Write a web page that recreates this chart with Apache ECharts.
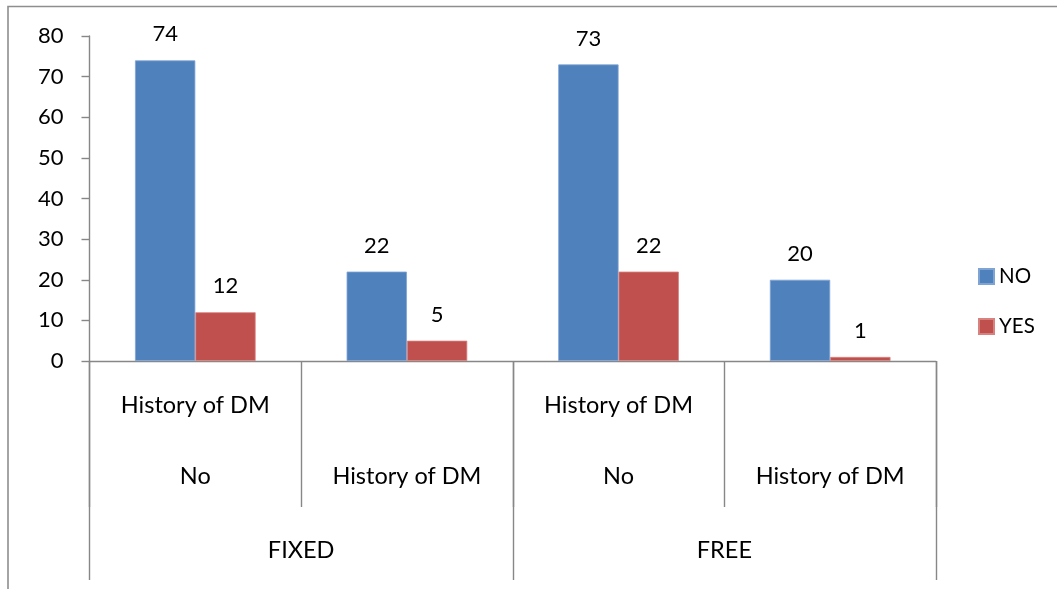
<!DOCTYPE html>
<html>
<head>
<meta charset="utf-8">
<script src="https://cdn.jsdelivr.net/npm/echarts@6/dist/echarts.min.js"></script>
<style>
  html, body { margin: 0; padding: 0; background: #fff; }
  #chart { width: 1057px; height: 589px; }
</style>
</head>
<body>
<div id="chart"></div>
<script>
// Inner categories (one bar cluster each)
const categories = ['c1', 'c2', 'c3', 'c4'];
// Category label rows, top to bottom
const rowHistory = ['History of DM', '', 'History of DM', ''];
const rowAnswer = ['No', 'History of DM', 'No', 'History of DM'];
const groups = ['FIXED', 'FREE'];

const seriesNames = ['NO', 'YES'];
const noValues = [74, 22, 73, 20];
const yesValues = [12, 5, 22, 1];

const FONT = 'Lato, sans-serif';
const AXIS_GRAY = '#878787';

const chart = echarts.init(document.getElementById('chart'), null, { renderer: 'canvas' });

const hiddenAxisBase = {
  type: 'category',
  position: 'bottom',
  gridIndex: 0,
  axisLine: { show: false },
  axisTick: { show: false },
  splitLine: { show: false },
  axisLabel: { color: '#000', fontFamily: FONT, fontSize: 23.5, lineHeight: 24, interval: 0 }
};

chart.setOption({
  animation: false,
  backgroundColor: '#fff',
  grid: { left: 89.5, right: 121, top: 36, bottom: 228, containLabel: false },
  legend: {
    orient: 'vertical',
    left: 973,
    top: 261,
    itemWidth: 15,
    itemHeight: 15,
    itemGap: 29,
    icon: 'rect',
    textStyle: { color: '#000', fontFamily: FONT, fontSize: 20.5, lineHeight: 20 },
    data: seriesNames
  },
  xAxis: [
    Object.assign({}, hiddenAxisBase, {
      data: categories.map((c, i) => rowHistory[i]),
      axisLine: { show: true, lineStyle: { color: AXIS_GRAY, width: 1.4 } },
      axisTick: { show: true, length: 146, lineStyle: { color: AXIS_GRAY, width: 1.4 } },
      axisLabel: Object.assign({}, hiddenAxisBase.axisLabel, { margin: 32 })
    }),
    Object.assign({}, hiddenAxisBase, {
      data: rowAnswer,
      axisLabel: Object.assign({}, hiddenAxisBase.axisLabel, { margin: 103 })
    }),
    Object.assign({}, hiddenAxisBase, {
      data: groups,
      axisTick: { show: true, length: 219, lineStyle: { color: AXIS_GRAY, width: 1.4 } },
      axisLabel: Object.assign({}, hiddenAxisBase.axisLabel, { margin: 177 })
    })
  ],
  yAxis: {
    type: 'value',
    min: 0,
    max: 80,
    interval: 10,
    axisLine: { show: true, lineStyle: { color: AXIS_GRAY, width: 1.4 } },
    axisTick: { show: true, length: 8, lineStyle: { color: AXIS_GRAY, width: 1.4 } },
    splitLine: { show: false },
    axisLabel: { color: '#000', fontFamily: FONT, fontSize: 22, margin: 26 }
  },
  graphic: [{
    type: 'rect',
    shape: { x: 8, y: 6.5, width: 1200, height: 800 },
    style: { fill: 'none', stroke: '#8e8e8e', lineWidth: 1.6 },
    silent: true,
    z: 100
  }],
  series: [
    {
      name: seriesNames[0],
      type: 'bar',
      xAxisIndex: 0,
      data: noValues,
      barGap: '0%',
      barCategoryGap: '43%',
      itemStyle: { color: '#4F81BD', borderColor: '#7FA3D3', borderWidth: 0.8 },
      label: { show: true, position: 'top', distance: 14, color: '#000', fontFamily: FONT, fontSize: 22, lineHeight: 24 }
    },
    {
      name: seriesNames[1],
      type: 'bar',
      xAxisIndex: 0,
      data: yesValues,
      itemStyle: { color: '#C0504D', borderColor: '#D8827F', borderWidth: 0.8 },
      label: { show: true, position: 'top', distance: 14, color: '#000', fontFamily: FONT, fontSize: 22, lineHeight: 24 }
    }
  ]
});
</script>
</body>
</html>
